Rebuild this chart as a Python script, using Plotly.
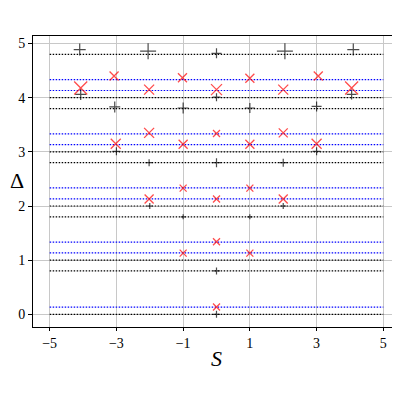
import plotly.graph_objects as go

# level lines (Delta values)
black_levels = [0.0, 0.8, 1.0, 1.8, 2.0, 2.8, 3.0, 3.8, 4.0, 4.8]
blue_levels = [0.133, 1.133, 1.333, 2.133, 2.333, 3.133, 3.333, 4.133, 4.333]
s_min, s_max = -5, 5

# black "+" points
plus_s = [-4.1, -2.05, 0, 2.05, 4.1, -4.07, 0, 4.05, -3.05, -1.0, 1.0, 3.0,
          -3.0, 3.0, -2.02, 0, 2.0, -2.0, 2.0, -1.0, 1.0, 0, 0]
plus_d = [4.89, 4.86, 4.82, 4.86, 4.89, 4.06, 4.01, 4.06, 3.83, 3.81, 3.81, 3.84,
          3.01, 3.01, 2.80, 2.80, 2.80, 2.0, 2.0, 1.80, 1.80, 0.80, 0.0]
plus_w = [12, 16, 10, 16, 12, 11, 8, 10, 11, 11, 10, 10,
          8, 8, 7, 9, 8, 6, 6, 5, 5, 7, 7]

# red "x" points
x_s = [-3.07, -1.02, 1.0, 3.05, -4.07, -2.02, 0, 2.0, 4.05, -2.02, 0, 2.0,
       -3.02, -1.0, 1.0, 3.0, -1.0, 1.0, -2.02, 0, 2.0, 0, -1.0, 1.0, 0]
x_d = [4.40, 4.37, 4.36, 4.40, 4.18, 4.15, 4.15, 4.15, 4.18, 3.35, 3.34, 3.35,
       3.15, 3.14, 3.14, 3.15, 2.33, 2.33, 2.13, 2.13, 2.13, 1.34, 1.13, 1.13, 0.135]
x_w = [9, 9, 9, 9, 13, 10, 11, 10, 13, 10, 7, 9,
       10, 9, 9, 10, 7, 7, 9, 7, 9, 7, 7, 7, 7]

xticks = [-5, -3, -1, 1, 3, 5]
yticks = [0, 1, 2, 3, 4, 5]

fig = go.Figure()

for lev in black_levels:
    fig.add_trace(go.Scatter(x=[s_min, s_max], y=[lev, lev], mode="lines",
                             line=dict(color="black", width=1.2, dash="1.5px,1.5px")))
for lev in blue_levels:
    fig.add_trace(go.Scatter(x=[s_min, s_max], y=[lev, lev], mode="lines",
                             line=dict(color="blue", width=1.2, dash="1.5px,1.5px")))

fig.add_trace(go.Scatter(x=plus_s, y=plus_d, mode="markers",
                         marker=dict(symbol="cross-thin", size=[w / 1.4 for w in plus_w],
                                     line=dict(color="black", width=1.2))))
fig.add_trace(go.Scatter(x=x_s, y=x_d, mode="markers",
                         marker=dict(symbol="x-thin", size=x_w,
                                     line=dict(color="red", width=1.3))))

axis_font = dict(family="Liberation Serif", size=14, color="black")
fig.update_xaxes(range=[-5.5, 5.5], tickvals=xticks, automargin=False,
                 ticktext=[str(t).replace("-", "\u2212") for t in xticks],
                 showgrid=True, gridcolor="#c8c8c8", gridwidth=1, zeroline=False,
                 showline=True, linecolor="black", linewidth=1, mirror=True,
                 ticks="outside", ticklen=3, tickcolor="black", tickfont=axis_font,
                 title=dict(text="<i>S</i>", font=dict(family="Liberation Serif", size=22, color="black"),
                            standoff=0))
fig.update_yaxes(range=[-0.235, 5.14], tickvals=yticks, automargin=False,
                 showgrid=True, gridcolor="#c8c8c8", gridwidth=1, zeroline=False,
                 showline=True, linecolor="black", linewidth=1, mirror=True,
                 ticks="outside", ticklen=4, tickcolor="black", tickfont=axis_font)

fig.add_annotation(text="\u0394", xref="paper", yref="paper", x=-25 / 367, y=0.505,
                   xanchor="left", yanchor="middle", showarrow=False,
                   font=dict(family="Liberation Serif", size=22, color="black"))

# page body adds ~8px offset, so the figure is 392 px and margins compensate
fig.update_layout(width=392, height=392, showlegend=False,
                  plot_bgcolor="white", paper_bgcolor="white",
                  margin=dict(l=25, r=0, t=28, b=73))

fig.write_html("out.html")
